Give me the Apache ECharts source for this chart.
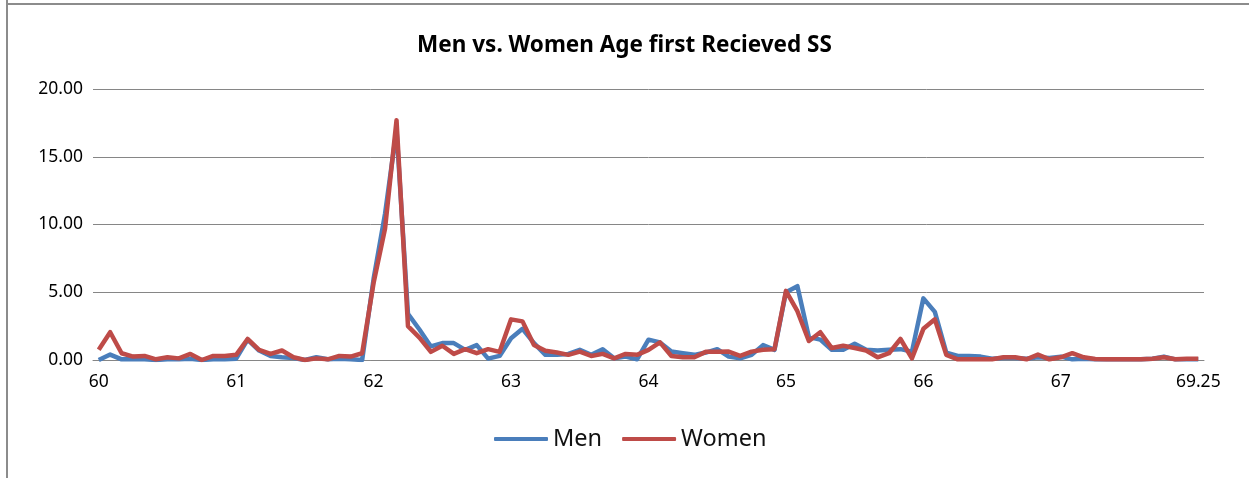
<!DOCTYPE html>
<html>
<head>
<meta charset="utf-8">
<script src="https://cdn.jsdelivr.net/npm/echarts@6/dist/echarts.min.js"></script>
<style>html,body{margin:0;padding:0;background:#fff;}#chart{width:1249px;height:478px;}</style>
</head>
<body>
<div id="chart"></div>
<script>
// Categories: age in monthly steps from 60, final bucket 69.25
const categories = [];
for (let k = 0; k < 96; k++) categories.push((60 + k / 12).toFixed(2));
categories.push('69.25');
const tickLabels = {0:'60',12:'61',24:'62',36:'63',48:'64',60:'65',72:'66',84:'67',96:'69.25'};

const men = [0.0,0.4,0.05,0.05,0.05,0.0,0.05,0.05,0.1,0.0,0.05,0.05,0.1,1.5,0.7,0.3,0.2,0.15,0.0,0.2,
0.05,0.1,0.05,0.0,6.0,10.8,17.0,3.4,2.25,1.0,1.25,1.25,0.75,1.1,0.1,0.3,1.6,2.3,1.25,0.38,
0.38,0.45,0.75,0.38,0.8,0.12,0.25,0.05,1.5,1.3,0.62,0.5,0.38,0.55,0.8,0.25,0.12,0.38,1.1,0.75,
5.0,5.45,1.7,1.5,0.75,0.75,1.2,0.75,0.7,0.75,0.8,0.62,4.55,3.55,0.55,0.3,0.3,0.25,0.1,0.15,
0.15,0.1,0.2,0.15,0.25,0.05,0.1,0.05,0.05,0.05,0.05,0.05,0.1,0.25,0.05,0.05,0.05];

const women = [0.75,2.05,0.5,0.25,0.3,0.05,0.2,0.12,0.45,0.0,0.3,0.3,0.38,1.55,0.75,0.45,0.7,0.2,0.0,0.12,
0.05,0.3,0.25,0.5,5.7,9.7,17.7,2.5,1.65,0.6,1.05,0.45,0.8,0.5,0.8,0.6,3.0,2.85,1.1,0.68,
0.55,0.38,0.62,0.3,0.45,0.12,0.45,0.38,0.75,1.3,0.3,0.2,0.2,0.6,0.6,0.62,0.3,0.62,0.75,0.8,
5.1,3.6,1.4,2.05,0.88,1.05,0.88,0.7,0.2,0.5,1.55,0.12,2.3,3.0,0.38,0.05,0.05,0.05,0.05,0.2,
0.2,0.05,0.4,0.05,0.2,0.5,0.2,0.07,0.05,0.05,0.05,0.05,0.1,0.2,0.05,0.1,0.1];

const chart = echarts.init(document.getElementById('chart'));
const font = 'Noto Sans, DejaVu Sans, sans-serif';
chart.setOption({
  animation: false,
  backgroundColor: '#ffffff',
  title: {
    text: 'Men vs. Women Age first Recieved SS',
    left: 'center', top: 29,
    textStyle: { fontFamily: font, fontSize: 22.5, fontWeight: 'bold', color: '#000' }
  },
  graphic: [
    { type: 'line', shape: { x1: 7, y1: 0, x2: 7, y2: 478 }, style: { stroke: '#8c8c8c', lineWidth: 2 } },
    { type: 'line', shape: { x1: 7, y1: 4, x2: 1249, y2: 4 }, style: { stroke: '#8c8c8c', lineWidth: 2 } }
  ],
  legend: {
    bottom: 22, left: 489,
    itemWidth: 54, itemHeight: 4, itemGap: 20,
    icon: 'roundRect',
    textStyle: { fontFamily: font, fontSize: 23.5, color: '#111' },
    data: ['Men', 'Women']
  },
  grid: { left: 93, right: 45, top: 89, bottom: 118 },
  xAxis: {
    type: 'category',
    data: categories,
    boundaryGap: true,
    axisLine: { lineStyle: { color: '#868686', width: 1 } },
    axisTick: { show: false },
    axisLabel: {
      interval: function (i) { return tickLabels[i] !== undefined; },
      formatter: function (v, i) { return tickLabels[i] !== undefined ? tickLabels[i] : ''; },
      fontFamily: font, fontSize: 17.5, color: '#000', margin: 13
    }
  },
  yAxis: {
    type: 'value',
    min: 0, max: 20, interval: 5,
    axisLine: { show: false },
    axisTick: { show: false },
    splitLine: { lineStyle: { color: '#868686', width: 1 } },
    axisLabel: {
      formatter: function (v) { return v.toFixed(2); },
      fontFamily: font, fontSize: 17.5, color: '#000', margin: 10
    }
  },
  series: [
    { name: 'Men', type: 'line', data: men, symbol: 'none', smooth: false,
      lineStyle: { color: '#4A7EBB', width: 4.5, join: 'round' }, itemStyle: { color: '#4A7EBB' } },
    { name: 'Women', type: 'line', data: women, symbol: 'none', smooth: false,
      lineStyle: { color: '#BE4B48', width: 4.5, join: 'round' }, itemStyle: { color: '#BE4B48' } }
  ]
});
</script>
</body>
</html>
